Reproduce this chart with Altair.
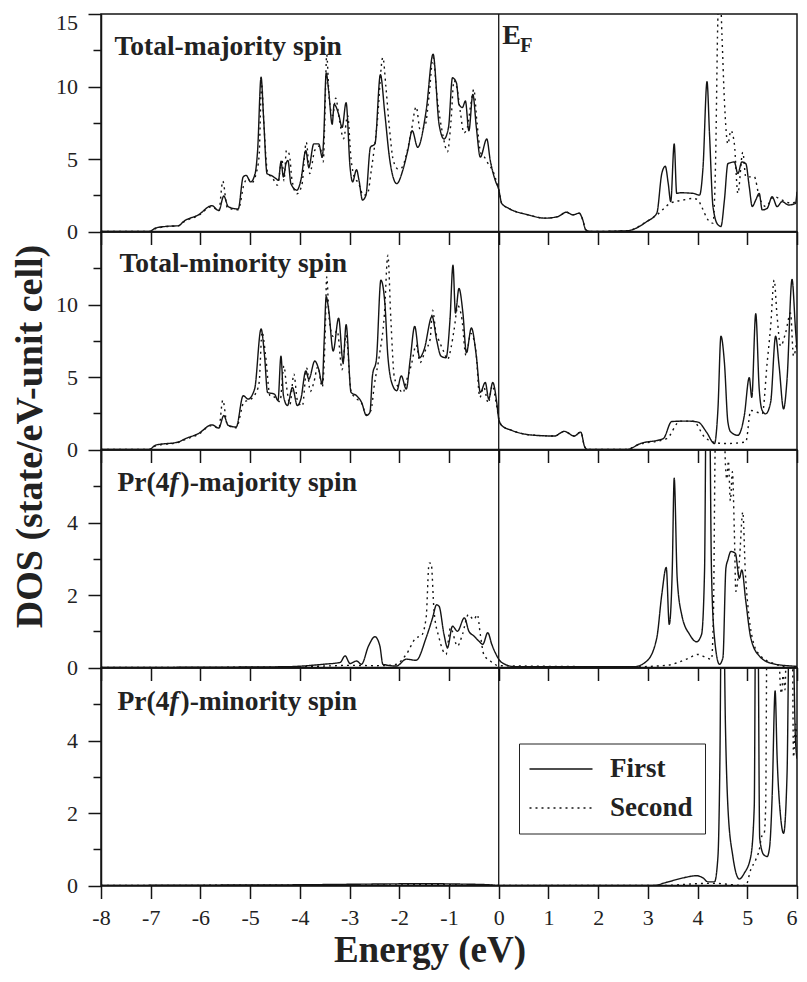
import altair as alt
import pandas as pd

# ---------------- data ----------------
series_names = ["First", "Second"]
panel_names = ["Total-majority spin", "Total-minority spin",
               "Pr(4f)-majority spin", "Pr(4f)-minority spin"]
pr_label_parts = [["Pr(4", "f", ")-majority spin"], ["Pr(4", "f", ")-minority spin"]]
energy_ticks = list(range(-8, 7))
fermi_level = [0.0]
fermi_label = ["E", "F"]
y_domains = [[0, 15], [0, 15], [0, 6], [0, 6]]
y_major = [[0, 5, 10, 15], [0, 5, 10], [0, 2, 4], [0, 2, 4]]
y_minor = [[2.5, 7.5, 12.5], [2.5, 7.5, 12.5], [1, 3, 5], [1, 3, 5]]

# Panel 1: total, majority spin
p1_first_E = [-8.0, -7.03, -6.9, -6.7, -6.44, -6.34, -6.04, -5.77, -5.63, -5.53,
              -5.44, -5.24, -5.14, -5.08, -4.99, -4.9, -4.85, -4.78, -4.73, -4.66,
              -4.58, -4.48, -4.43, -4.38, -4.33, -4.28, -4.24, -4.18, -4.06, -3.98,
              -3.88, -3.82, -3.72, -3.62, -3.55, -3.52, -3.47, -3.42, -3.35, -3.31,
              -3.22, -3.15, -3.07, -2.99, -2.94, -2.86, -2.81, -2.74, -2.67, -2.58,
              -2.49, -2.38, -2.29, -2.19, -2.05, -1.93, -1.83, -1.74, -1.63, -1.46,
              -1.32, -1.2, -1.1, -1.01, -0.93, -0.85, -0.8, -0.73, -0.67, -0.6,
              -0.52, -0.45, -0.37, -0.24, -0.17, -0.07, 0.0, 0.06, 0.2, 0.59,
              0.93, 1.19, 1.36, 1.49, 1.62, 1.69, 1.75, 1.85, 2.58, 2.98,
              3.18, 3.28, 3.35, 3.41, 3.46, 3.53, 3.58, 3.65, 3.91, 4.04,
              4.11, 4.19, 4.24, 4.31, 4.41, 4.47, 4.54, 4.61, 4.74, 4.81,
              4.89, 4.97, 5.04, 5.1, 5.17, 5.24, 5.3, 5.4, 5.5, 5.6,
              5.7, 5.83, 5.97, 6.0]
p1_first_dos = [0, 0, 0.24, 0.35, 0.4, 0.69, 1.15, 1.78, 1.44, 2.45,
                1.71, 1.55, 3.76, 3.87, 3.42, 3.99, 5.58, 10.64, 7.86, 3.99,
                3.87, 3.65, 3.53, 4.79, 3.76, 4.67, 4.9, 3.3, 2.85, 3.53,
                5.58, 4.44, 6.04, 6.04, 5.13, 6.5, 10.94, 9.68, 7.4, 8.77,
                8.09, 7.18, 8.89, 4.44, 3.42, 4.26, 3.53, 2.17, 2.51, 5.81,
                6.04, 10.82, 8.09, 4.9, 3.3, 4.22, 5.58, 6.95, 5.81, 8.32,
                12.23, 7.4, 6.38, 7.18, 10.6, 10.25, 8.77, 8.55, 9.0, 6.95,
                9.46, 7.18, 5.13, 6.38, 4.9, 3.53, 2.9, 1.94, 1.6, 1.15,
                0.92, 1.03, 1.33, 1.15, 1.26, 0.81, 0.12, 0.0, 0.05, 0.69,
                1.26, 3.99, 4.5, 3.31, 2.06, 6.04, 2.63, 2.67, 2.63, 2.51,
                4.45, 10.33, 6.73, 1.72, 0.46, 0.35, 2.17, 4.68, 4.79, 3.99,
                4.79, 4.68, 3.08, 1.72, 2.17, 2.63, 1.49, 1.6, 2.4, 1.72,
                2.06, 1.83, 1.94, 2.74]
p1_second_E = [-8.0, -7.03, -6.9, -6.7, -6.44, -6.34, -6.04, -5.77, -5.63, -5.55,
               -5.46, -5.24, -5.12, -5.05, -4.97, -4.88, -4.82, -4.77, -4.72, -4.65,
               -4.55, -4.45, -4.36, -4.32, -4.27, -4.21, -4.16, -4.06, -3.96, -3.87,
               -3.8, -3.7, -3.6, -3.53, -3.5, -3.46, -3.41, -3.34, -3.28, -3.2,
               -3.12, -3.04, -2.97, -2.9, -2.83, -2.72, -2.64, -2.56, -2.45, -2.33,
               -2.27, -2.2, -2.12, -2.02, -1.95, -1.85, -1.76, -1.66, -1.58, -1.48,
               -1.4, -1.32, -1.24, -1.12, -1.03, -0.96, -0.9, -0.84, -0.77, -0.7,
               -0.63, -0.56, -0.5, -0.44, -0.36, -0.28, -0.2, -0.12, -0.05, 0.0,
               0.06, 0.2, 0.59, 0.93, 1.19, 1.36, 1.49, 1.62, 1.69, 1.75,
               1.85, 2.58, 2.98, 3.2, 3.45, 3.71, 3.91, 4.01, 4.08, 4.21,
               4.31, 4.36, 4.41, 4.45, 4.49, 4.54, 4.61, 4.67, 4.74, 4.81,
               4.91, 4.97, 5.14, 5.24, 5.37, 5.54, 5.7, 5.9, 6.0]
p1_second_dos = [0, 0, 0.2, 0.33, 0.4, 0.65, 1.1, 1.72, 1.42, 3.47,
                 1.65, 1.5, 3.3, 3.65, 3.35, 4.0, 5.2, 10.2, 7.2, 4.1,
                 3.7, 3.2, 5.0, 3.5, 5.6, 5.3, 3.6, 2.6, 3.2, 6.15,
                 4.0, 5.6, 5.9, 4.8, 7.5, 12.2, 9.2, 8.0, 9.2, 7.6,
                 6.4, 8.0, 5.0, 3.7, 3.4, 2.5, 2.6, 4.3, 7.3, 12.0,
                 10.0, 7.2, 4.9, 4.3, 4.4, 5.4, 6.9, 8.6, 7.0, 7.3,
                 9.4, 12.0, 9.3, 6.6, 5.5, 7.6, 10.4, 9.9, 8.2, 6.8,
                 7.2, 8.8, 9.8, 7.6, 5.4, 5.1, 4.6, 4.2, 3.5, 2.9,
                 1.94, 1.6, 1.15, 0.92, 1.03, 1.33, 1.15, 1.26, 0.81, 0.12,
                 0.0, 0.05, 0.69, 1.2, 1.94, 2.17, 2.28, 2.17, 1.72, 0.8,
                 0.58, 4.45, 14.9, 17.0, 13.6, 9.0, 6.04, 6.96, 6.04, 2.63,
                 5.47, 3.77, 3.77, 2.4, 1.72, 2.4, 2.17, 1.94, 2.17]

# Panel 2: total, minority spin
p2_first_E = [-8.0, -7.03, -6.9, -6.44, -6.3, -6.04, -5.77, -5.63, -5.53, -5.44,
              -5.28, -5.14, -5.04, -4.91, -4.78, -4.71, -4.65, -4.51, -4.44, -4.38,
              -4.33, -4.25, -4.15, -4.05, -3.98, -3.88, -3.82, -3.7, -3.62, -3.55,
              -3.51, -3.47, -3.42, -3.33, -3.22, -3.13, -3.07, -2.97, -2.86, -2.76,
              -2.66, -2.59, -2.54, -2.46, -2.37, -2.29, -2.23, -2.13, -2.05, -1.96,
              -1.86, -1.78, -1.69, -1.59, -1.5, -1.34, -1.25, -1.16, -1.06, -0.98,
              -0.92, -0.87, -0.8, -0.72, -0.65, -0.55, -0.45, -0.37, -0.27, -0.2,
              -0.12, -0.04, 0.0, 0.06, 0.26, 0.73, 1.12, 1.32, 1.52, 1.65,
              1.73, 1.79, 2.58, 2.85, 3.31, 3.48, 3.78, 4.01, 4.18, 4.34,
              4.41, 4.47, 4.54, 4.61, 4.67, 4.81, 4.94, 5.04, 5.09, 5.17,
              5.24, 5.3, 5.37, 5.47, 5.57, 5.64, 5.73, 5.8, 5.9, 5.97,
              6.0]
p2_first_dos = [0, 0, 0.3, 0.52, 0.75, 1.1, 1.7, 1.48, 2.34, 1.66,
                1.55, 3.71, 3.48, 4.17, 8.31, 6.44, 3.94, 3.82, 3.37, 6.44,
                3.71, 3.03, 4.28, 3.03, 3.48, 5.42, 4.85, 6.1, 5.53, 4.51,
                7.58, 10.54, 9.63, 6.79, 9.06, 5.99, 8.61, 3.94, 3.71, 3.26,
                2.34, 2.57, 5.08, 6.22, 11.68, 10.09, 6.44, 4.39, 4.05, 5.08,
                4.17, 6.22, 8.49, 6.33, 6.9, 9.18, 7.58, 6.44, 6.33, 8.95,
                12.71, 9.41, 11.11, 9.41, 6.67, 8.38, 6.44, 3.94, 4.62, 3.48,
                4.62, 3.26, 2.12, 1.66, 1.32, 0.98, 0.93, 1.25, 0.93, 1.2,
                0.18, 0.0, 0.0, 0.41, 0.75, 1.93, 1.96, 1.89, 1.2, 0.41,
                2.8, 7.81, 5.99, 1.89, 1.2, 0.98, 2.34, 4.96, 3.6, 9.36,
                4.17, 2.69, 2.46, 3.26, 7.81, 5.76, 2.8, 4.85, 11.73, 8.27,
                6.9]
p2_second_E = [-8.0, -7.03, -6.9, -6.44, -6.3, -6.04, -5.77, -5.63, -5.55, -5.46,
               -5.28, -5.12, -5.02, -4.9, -4.82, -4.76, -4.69, -4.6, -4.5, -4.4,
               -4.32, -4.27, -4.2, -4.12, -4.05, -3.95, -3.86, -3.79, -3.72, -3.64,
               -3.55, -3.49, -3.46, -3.41, -3.33, -3.25, -3.15, -3.07, -2.97, -2.86,
               -2.76, -2.66, -2.57, -2.5, -2.4, -2.3, -2.23, -2.17, -2.1, -2.0,
               -1.93, -1.85, -1.76, -1.66, -1.58, -1.48, -1.38, -1.33, -1.26, -1.2,
               -1.1, -1.03, -0.96, -0.9, -0.82, -0.74, -0.66, -0.56, -0.46, -0.38,
               -0.3, -0.21, -0.13, -0.05, 0.0, 0.06, 0.26, 0.73, 1.12, 1.32,
               1.52, 1.65, 1.73, 1.79, 2.58, 2.78, 3.38, 3.65, 3.91, 4.14,
               4.31, 4.57, 4.97, 5.07, 5.2, 5.3, 5.4, 5.47, 5.54, 5.6,
               5.67, 5.77, 5.87, 5.93, 6.0]
p2_second_dos = [0, 0, 0.25, 0.5, 0.7, 1.05, 1.65, 1.45, 3.4, 1.7,
                 1.5, 3.3, 3.4, 3.8, 4.6, 8.1, 6.5, 3.7, 3.6, 3.3,
                 5.76, 4.4, 3.1, 5.2, 3.4, 3.0, 5.6, 4.0, 4.6, 5.7,
                 4.3, 8.0, 11.9, 9.0, 7.8, 8.2, 5.5, 7.9, 4.0, 3.5,
                 3.2, 2.4, 2.7, 4.5, 6.5, 9.3, 13.4, 9.0, 5.0, 4.2,
                 3.9, 4.8, 5.8, 7.2, 6.0, 6.8, 7.6, 9.6, 8.0, 7.5,
                 6.7, 6.2, 7.0, 8.2, 9.9, 9.0, 6.5, 8.0, 6.8, 3.6,
                 4.3, 3.2, 4.4, 3.2, 2.12, 1.66, 1.32, 0.98, 0.93, 1.25,
                 0.93, 1.2, 0.18, 0.0, 0.0, 0.3, 0.75, 1.96, 1.96, 0.86,
                 0.52, 0.41, 0.52, 2.69, 2.57, 2.46, 5.99, 8.49, 11.68, 9.18,
                 7.13, 8.04, 9.41, 6.44, 7.58]

# Panel 3: Pr(4f), majority spin
p3_first_E = [-8.0, -4.32, -3.52, -3.19, -3.09, -2.99, -2.86, -2.76, -2.62, -2.49,
              -2.39, -2.33, -2.06, -1.86, -1.66, -1.46, -1.33, -1.25, -1.2, -1.1,
              -1.03, -0.93, -0.83, -0.69, -0.6, -0.5, -0.4, -0.32, -0.22, -0.14,
              -0.07, 0.06, 0.33, 2.72, 2.98, 3.18, 3.28, 3.37, 3.43, 3.49,
              3.53, 3.59, 3.68, 3.84, 3.98, 4.08, 4.14, 4.18, 4.23, 4.28,
              4.34, 4.44, 4.51, 4.57, 4.61, 4.67, 4.76, 4.84, 4.89, 4.97,
              5.07, 5.24, 5.5, 5.9, 6.0]
p3_first_dos = [0, 0.02, 0.09, 0.14, 0.32, 0.11, 0.18, 0.09, 0.59, 0.85,
                0.59, 0.09, 0.04, 0.23, 0.2, 0.82, 1.37, 1.73, 1.69, 0.91,
                0.55, 1.14, 1.0, 1.37, 1.0, 0.87, 0.73, 0.64, 0.96, 0.64,
                0.41, 0.14, 0.02, 0.02, 0.18, 0.82, 2.01, 2.76, 1.19, 2.65,
                5.22, 2.46, 1.46, 0.91, 0.71, 0.91, 2.65, 8.5, 8.5, 2.65,
                0.82, 0.09, 0.27, 2.74, 2.97, 3.2, 3.15, 2.46, 2.69, 1.83,
                0.82, 0.32, 0.11, 0.04, 0.03]
p3_second_E = [-8.0, -4.3, -3.5, -3.0, -2.5, -2.2, -2.06, -1.86, -1.66, -1.56,
               -1.46, -1.4, -1.36, -1.3, -1.2, -1.06, -0.97, -0.83, -0.73, -0.61,
               -0.5, -0.43, -0.37, -0.3, -0.17, 0.0, 2.72, 3.38, 3.78, 4.01,
               4.18, 4.28, 4.32, 4.35, 4.38, 4.52, 4.56, 4.59, 4.62, 4.66,
               4.7, 4.74, 4.77, 4.84, 4.91, 4.96, 5.01, 5.1, 5.24, 5.57,
               5.9, 6.0]
p3_second_dos = [0, 0.01, 0.04, 0.06, 0.05, 0.06, 0.09, 0.36, 0.82, 0.87,
                 1.37, 2.88, 2.88, 1.55, 0.82, 0.36, 1.09, 0.59, 0.91, 1.46,
                 1.32, 1.46, 0.91, 0.36, 0.18, 0.05, 0.02, 0.06, 0.23, 0.36,
                 0.27, 0.23, 1.55, 5.75, 8.0, 8.0, 5.6, 5.2, 5.7, 4.6,
                 5.4, 3.74, 2.1, 2.92, 4.29, 2.65, 1.73, 0.82, 0.36, 0.09,
                 0.0, 0.0]

# Panel 4: Pr(4f), minority spin
p4_first_E = [-8.0, -6.0, -4.0, -2.5, -1.5, -0.8, -0.2, 0.0, 3.11, 3.38,
              3.71, 3.98, 4.11, 4.21, 4.34, 4.41, 4.45, 4.48, 4.52, 4.56,
              4.61, 4.71, 4.84, 4.94, 5.07, 5.14, 5.17, 5.21, 5.25, 5.33,
              5.4, 5.45, 5.5, 5.56, 5.6, 5.67, 5.73, 5.8, 5.85, 5.9,
              5.97, 6.0]
p4_first_dos = [0, 0.01, 0.02, 0.04, 0.05, 0.04, 0.02, 0.0, 0.0, 0.09,
                0.21, 0.27, 0.21, 0.1, 0.1, 0.8, 3.54, 8.0, 8.0, 4.45,
                2.17, 0.8, 0.18, 0.34, 0.8, 2.17, 8.0, 8.0, 1.3, 0.85,
                0.8, 1.07, 2.44, 5.37, 3.54, 1.9, 1.44, 3.08, 8.0, 8.0,
                4.0, 3.5]
p4_second_E = [-8.0, -4.0, -1.0, 0.0, 3.3, 4.0, 4.3, 4.97, 5.07, 5.17,
               5.24, 5.29, 5.34, 5.37, 5.4, 5.62, 5.66, 5.69, 5.72, 5.76,
               5.8, 5.9, 5.93, 5.97, 6.0]
p4_second_dos = [0, 0.01, 0.02, 0.0, 0.0, 0.05, 0.06, 0.0, 0.44, 0.71,
                 0.98, 1.35, 1.44, 2.17, 8.0, 8.0, 5.6, 5.3, 5.8, 5.4,
                 8.0, 8.0, 3.54, 4.45, 4.0]

curves = [
    [(p1_first_E, p1_first_dos), (p1_second_E, p1_second_dos)],
    [(p2_first_E, p2_first_dos), (p2_second_E, p2_second_dos)],
    [(p3_first_E, p3_first_dos), (p3_second_E, p3_second_dos)],
    [(p4_first_E, p4_first_dos), (p4_second_E, p4_second_dos)],
]

# ---------------- styling ----------------
SERIF = "Liberation Serif"
INK = "#141414"
TXT = "#222222"
W, H = 696, 217.5
label_x = [13.5, 18.5, 16.5, 16.5]
label_y = [41, 40, 40.5, 41.5]

axis_common = dict(labelFont=SERIF, labelFontSize=22, labelColor=TXT, domainColor=INK,
                   domainWidth=1.5, tickColor=INK, tickWidth=1.5, grid=False)


def curve_frame(i):
    frames = []
    for s, (e, d) in zip(series_names, curves[i]):
        f = pd.DataFrame({"E": e, "DOS": d})
        f["series"] = s
        f["idx"] = range(len(f))
        frames.append(f)
    return pd.concat(frames, ignore_index=True)


def make_panel(i):
    last = i == 3
    xscale = alt.Scale(domain=[-8, 6], nice=False, zero=False)
    yscale = alt.Scale(domain=y_domains[i], nice=False, zero=False)

    x_kw = dict(axis_common, values=energy_ticks, tickSize=13, labels=last,
                title=None, labelFlush=False)
    if last:
        x_kw.update(title="Energy (eV)", titleFontSize=37, titleFontWeight="bold",
                    titleFont=SERIF, titleColor=TXT, titleX=328.5, titleY=76,
                    titleBaseline="alphabetic", titleAlign="center", labelPadding=9,
                    labelExpr="datum.value + ''",
                    labelAlign={"condition": {"test": "datum.value == 6", "value": "right"},
                                "value": "center"})
    y_kw = dict(axis_common, values=y_major[i], tickSize=13, labelPadding=10.5,
                title=None, orient="left")
    if i == 0:
        y_kw.update(labelBaseline={"condition": {"test": "datum.value == 15", "value": "line-top"},
                                   "value": "middle"},
                    labelLineHeight=17)
    if i == 1:
        y_kw.update(title="DOS (state/eV-unit cell)", titleFontSize=38,
                    titleFontWeight="bold", titleFont=SERIF, titleColor=TXT,
                    titleAngle=270, titleBaseline="alphabetic", titleAlign="center",
                    titleX=-60, titleY=204)

    if last:
        legend = alt.Legend(orient="none", legendX=418, legendY=75.5, title=None,
                            direction="vertical", fillColor="white", strokeColor=TXT,
                            padding=12, symbolType="M-1.5,0H4.8", symbolSize=400,
                            symbolStrokeWidth=1.5, symbolStrokeColor=INK,
                            labelFont=SERIF, labelFontSize=27, labelFontWeight="bold",
                            labelColor=TXT, labelOffset=52, rowPadding=11)
    else:
        legend = None

    lines = alt.Chart(curve_frame(i)).mark_line(
        clip=True, color=INK, strokeWidth=1.4, interpolate="monotone").encode(
        x=alt.X("E:Q", scale=xscale, axis=alt.Axis(**x_kw)),
        y=alt.Y("DOS:Q", scale=yscale, axis=alt.Axis(**y_kw)),
        strokeDash=alt.StrokeDash("series:N",
                                  scale=alt.Scale(domain=series_names, range=[[1, 0], [2, 4]]),
                                  legend=legend),
        order=alt.Order("idx:Q"),
    )

    ef_rule = alt.Chart(pd.DataFrame({"E": fermi_level})).mark_rule(
        color=INK, strokeWidth=1.3).encode(x=alt.X("E:Q", scale=xscale))

    minor = alt.Chart(pd.DataFrame({"m": y_minor[i]})).mark_point(opacity=0, size=1).encode(
        y=alt.Y("m:Q", scale=yscale,
                axis=alt.Axis(orient="left", values=y_minor[i], labels=False, tickSize=8,
                              domain=False, grid=False, title=None, tickColor=INK,
                              tickWidth=1.5)))

    text_style = dict(align="left", baseline="alphabetic", font=SERIF, fontSize=27.5,
                      fontWeight="bold", color=TXT)
    texts = []
    if i < 2:
        texts.append(alt.Chart(pd.DataFrame({"t": [panel_names[i]]})).mark_text(**text_style).encode(
            x=alt.value(label_x[i]), y=alt.value(label_y[i]), text="t:N"))
    else:
        parts = pr_label_parts[i - 2]
        offsets = [0, 52, 63]
        for k, (p, off) in enumerate(zip(parts, offsets)):
            st = dict(text_style)
            if k == 1:
                st["fontStyle"] = "italic"
            texts.append(alt.Chart(pd.DataFrame({"t": [p]})).mark_text(**st).encode(
                x=alt.value(label_x[i] + off), y=alt.value(label_y[i]), text="t:N"))
    if i == 0:
        texts.append(alt.Chart(pd.DataFrame({"E": fermi_level, "t": [fermi_label[0]]})).mark_text(
            align="left", baseline="alphabetic", font=SERIF, fontSize=28, fontWeight="bold",
            color=TXT, dx=3.5).encode(x=alt.X("E:Q", scale=xscale), y=alt.value(29.7), text="t:N"))
        texts.append(alt.Chart(pd.DataFrame({"E": fermi_level, "t": [fermi_label[1]]})).mark_text(
            align="left", baseline="alphabetic", font=SERIF, fontSize=20, fontWeight="bold",
            color=TXT, dx=21.5).encode(x=alt.X("E:Q", scale=xscale), y=alt.value(37.7), text="t:N"))

    return alt.layer(lines, ef_rule, minor, *texts).resolve_scale(y="independent").properties(
        width=W, height=H)


chart = alt.vconcat(*[make_panel(i) for i in range(4)], spacing=0, bounds="flush").resolve_scale(
    strokeDash="independent").resolve_legend(strokeDash="independent").properties(
    padding={"left": 2, "top": 2, "right": 0, "bottom": 0}).configure_view(
    stroke=INK, strokeWidth=1.5).configure_axis(
    labelFont=SERIF, labelFontSize=22, labelColor=TXT, domainColor=INK, domainWidth=1.5,
    tickColor=INK, tickWidth=1.5, titleFont=SERIF)

chart.save("out.html", embed_options={"renderer": "svg", "actions": False})
